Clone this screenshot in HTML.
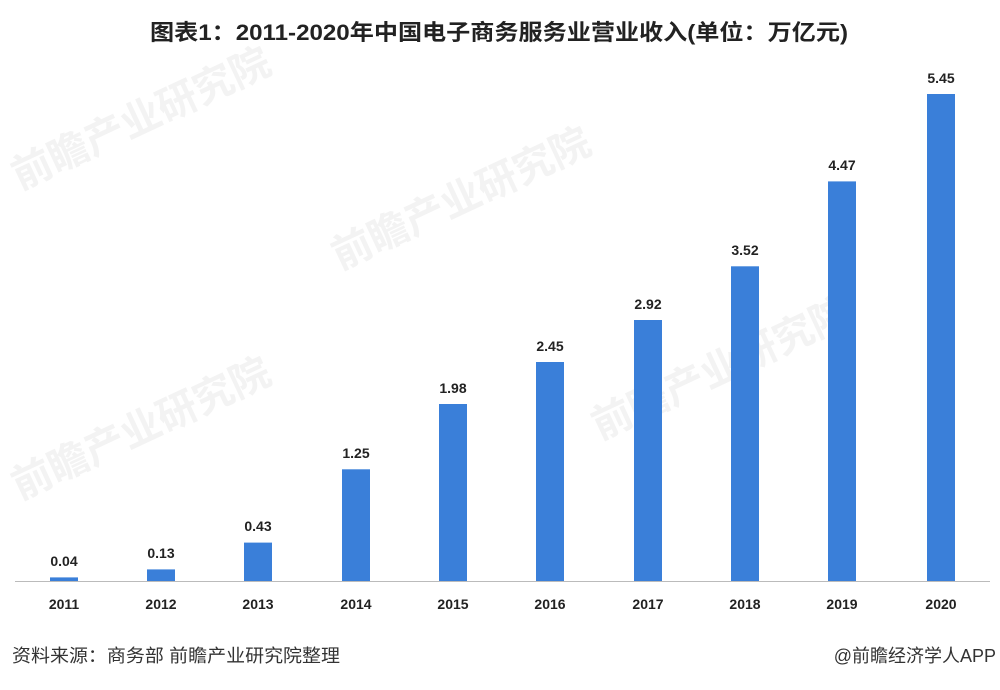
<!DOCTYPE html>
<html><head><meta charset="utf-8"><style>
body{margin:0;width:1000px;height:685px;background:#fff;overflow:hidden;font-family:"Liberation Sans","Noto Sans CJK SC",sans-serif}
</style></head><body>
<svg width="1000" height="685" xmlns="http://www.w3.org/2000/svg" font-family="Liberation Sans, Noto Sans CJK SC, sans-serif">
<text x="499" y="40" text-anchor="middle" font-size="22" font-weight="bold" fill="#222" textLength="698" lengthAdjust="spacingAndGlyphs">图表1：2011-2020年中国电子商务服务业营业收入(单位：万亿元)</text>
<g fill="#f3f3f3" font-size="40" font-weight="bold">
<text x="20" y="190" transform="rotate(-25 20 190)">前瞻产业研究院</text>
<text x="340" y="270" transform="rotate(-25 340 270)">前瞻产业研究院</text>
<text x="20" y="500" transform="rotate(-25 20 500)">前瞻产业研究院</text>
<text x="600" y="440" transform="rotate(-25 600 440)">前瞻产业研究院</text>
</g>
<line x1="15" y1="581.5" x2="990" y2="581.5" stroke="#bbb" stroke-width="1"/>
<g fill="#3a7fd9">
<rect x="50" y="577.4" width="28" height="3.6"/>
<rect x="147" y="569.4" width="28" height="11.6"/>
<rect x="244" y="542.6" width="28" height="38.4"/>
<rect x="342" y="469.3" width="28" height="111.7"/>
<rect x="439" y="404" width="28" height="177"/>
<rect x="536" y="362" width="28" height="219"/>
<rect x="634" y="320" width="28" height="261"/>
<rect x="731" y="266.3" width="28" height="314.7"/>
<rect x="828" y="181.4" width="28" height="399.6"/>
<rect x="927" y="94" width="28" height="487"/>
</g>
<g font-size="14" font-weight="bold" fill="#222" text-anchor="middle">
<text x="64" y="566">0.04</text><text x="161" y="558">0.13</text><text x="258" y="531">0.43</text>
<text x="356" y="458">1.25</text><text x="453" y="393">1.98</text><text x="550" y="351">2.45</text>
<text x="648" y="309">2.92</text><text x="745" y="255">3.52</text><text x="842" y="170">4.47</text>
<text x="941" y="83">5.45</text>
<text x="64" y="609">2011</text><text x="161" y="609">2012</text><text x="258" y="609">2013</text>
<text x="356" y="609">2014</text><text x="453" y="609">2015</text><text x="550" y="609">2016</text>
<text x="648" y="609">2017</text><text x="745" y="609">2018</text><text x="842" y="609">2019</text>
<text x="941" y="609">2020</text>
</g>
<text x="12" y="662" font-size="18" fill="#333" textLength="328" lengthAdjust="spacingAndGlyphs">资料来源：商务部 前瞻产业研究院整理</text>
<text x="996" y="662" font-size="18" fill="#333" text-anchor="end">@前瞻经济学人APP</text>
</svg>
</body></html>
